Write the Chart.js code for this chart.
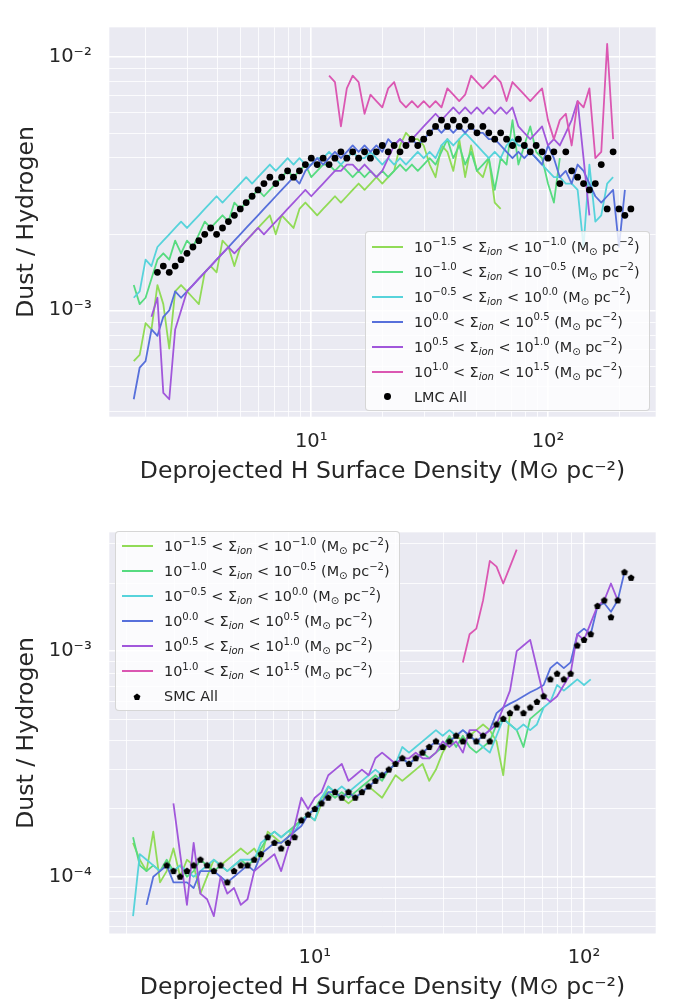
<!DOCTYPE html>
<html>
<head>
<meta charset="utf-8">
<title>Dust / Hydrogen vs deprojected H surface density</title>
<script src="https://cdn.jsdelivr.net/npm/chart.js@4.4.1/dist/chart.umd.min.js"></script>
<style>
  html, body { margin:0; padding:0; background:#ffffff; }
  #page { position:relative; width:676px; height:1007px; overflow:hidden; font-family:"DejaVu Sans", sans-serif; color:#262626; }
  canvas.plot { position:absolute; left:0; }
  #cLMC { top:0; }
  #cSMC { top:505px; }
  .legend { position:absolute; width:285px; height:180px; box-sizing:border-box; background:rgba(255,255,255,0.8); border:1px solid rgba(204,204,204,0.8); border-radius:4px; }
  #legLMC { left:365px; top:231px; }
  #legSMC { left:115px; top:530.5px; }
  .row { position:absolute; left:0; width:100%; height:22px; }
  .sw { position:absolute; left:5.5px; top:10px; width:31px; height:2px; }
  .dot { position:absolute; left:17.9px; top:7.6px; width:6.8px; height:6.8px; border-radius:50%; background:#000; }
  .pent { position:absolute; left:15.5px; top:6.5px; }
  .tx { position:absolute; left:48px; top:0; height:22px; line-height:22px; font-size:14.4px; white-space:nowrap; color:#262626; }
  .tx sup, .tx sub { font-size:70%; line-height:0; position:relative; vertical-align:baseline; }
  .tx sup { top:-0.62em; }
  .tx sub { top:0.32em; }
</style>
</head>
<body>
<div id="page">
  <canvas id="cLMC" class="plot" width="676" height="505"></canvas>
  <canvas id="cSMC" class="plot" width="676" height="502"></canvas>
  <div id="legLMC" class="legend"></div>
  <div id="legSMC" class="legend"></div>
</div>
<script>
// ---------------- shared density bins (M_sun pc^-2) ----------------
const densityBins = [
  1.778, 1.884, 1.995, 2.113, 2.239, 2.371, 2.512, 2.661, 2.818, 2.985,
  3.162, 3.350, 3.548, 3.758, 3.981, 4.217, 4.467, 4.732, 5.012, 5.309,
  5.623, 5.957, 6.310, 6.683, 7.079, 7.499, 7.943, 8.414, 8.913, 9.441,
  10.00, 10.59, 11.22, 11.89, 12.59, 13.34, 14.13, 14.96, 15.85, 16.79,
  17.78, 18.84, 19.95, 21.13, 22.39, 23.71, 25.12, 26.61, 28.18, 29.85,
  31.62, 33.50, 35.48, 37.58, 39.81, 42.17, 44.67, 47.32, 50.12, 53.09,
  56.23, 59.57, 63.10, 66.83, 70.79, 74.99, 79.43, 84.14, 89.13, 94.41,
  100.0, 105.9, 112.2, 118.9, 125.9, 133.4, 141.3, 149.6, 158.5, 167.9,
  177.8, 188.4, 199.5, 211.3, 223.9
];

// ionised gas surface density bins (legend exponents)
const ionLow  = ['\u22121.5', '\u22121.0', '\u22120.5', '0.0', '0.5', '1.0'];
const ionHigh = ['\u22121.0', '\u22120.5', '0.0', '0.5', '1.0', '1.5'];
const ionColors = ['hsl(93.6,65%,60%)', 'hsl(138.6,65%,60%)', 'hsl(183.6,65%,60%)',
                   'hsl(228.6,65%,60%)', 'hsl(273.6,65%,60%)', 'hsl(318.6,65%,60%)'];

// ---------------- LMC (top panel) ----------------
const lmcAllStart = 4;
const lmcAll = [
  1.413e-3,1.496e-3,1.413e-3,1.496e-3,1.585e-3,1.679e-3,1.778e-3,1.884e-3,1.995e-3,2.113e-3,
  1.995e-3,2.113e-3,2.239e-3,2.371e-3,2.512e-3,2.661e-3,2.818e-3,2.985e-3,3.162e-3,3.350e-3,
  3.162e-3,3.350e-3,3.548e-3,3.350e-3,3.548e-3,3.758e-3,3.981e-3,3.758e-3,3.981e-3,3.758e-3,
  3.981e-3,4.217e-3,3.981e-3,4.217e-3,3.981e-3,4.217e-3,3.981e-3,4.217e-3,4.467e-3,4.217e-3,
  4.467e-3,4.217e-3,4.467e-3,4.732e-3,4.467e-3,4.732e-3,5.012e-3,5.309e-3,5.623e-3,5.309e-3,
  5.623e-3,5.309e-3,5.623e-3,5.309e-3,5.012e-3,5.309e-3,5.012e-3,4.732e-3,5.012e-3,4.732e-3,
  4.467e-3,4.732e-3,4.467e-3,4.217e-3,4.467e-3,4.217e-3,3.981e-3,4.217e-3,3.162e-3,4.217e-3,
  3.548e-3,3.350e-3,3.162e-3,2.985e-3,3.162e-3,3.758e-3,2.512e-3,4.217e-3,2.512e-3,2.371e-3,2.512e-3
];
const lmcIonStart = [0, 0, 0, 0, 3, 33];
const lmcIon1 = [
  0.6310e-3,0.6683e-3,0.8913e-3,0.8414e-3,1.259e-3,1.059e-3,0.7079e-3,1.189e-3,1.259e-3,1.189e-3,
  1.122e-3,1.059e-3,1.413e-3,1.496e-3,1.413e-3,1.884e-3,1.778e-3,1.496e-3,1.778e-3,1.884e-3,
  1.995e-3,2.113e-3,2.239e-3,2.371e-3,1.995e-3,2.371e-3,2.239e-3,2.113e-3,2.512e-3,2.661e-3,
  2.512e-3,2.371e-3,2.512e-3,2.661e-3,2.818e-3,2.661e-3,2.818e-3,2.985e-3,3.162e-3,2.985e-3,
  3.162e-3,3.350e-3,3.162e-3,3.350e-3,3.548e-3,4.467e-3,5.012e-3,4.732e-3,4.732e-3,4.467e-3,
  3.758e-3,3.350e-3,4.467e-3,4.217e-3,3.548e-3,4.732e-3,3.350e-3,4.467e-3,3.548e-3,3.350e-3,
  3.981e-3,2.661e-3,2.512e-3
];
const lmcIon2 = [
  1.259e-3,1.059e-3,1.122e-3,1.334e-3,1.585e-3,1.679e-3,1.585e-3,1.884e-3,1.679e-3,1.884e-3,
  1.778e-3,1.995e-3,2.239e-3,2.113e-3,2.239e-3,2.371e-3,2.239e-3,2.661e-3,2.512e-3,2.661e-3,
  2.818e-3,2.985e-3,2.818e-3,2.985e-3,3.162e-3,3.350e-3,3.548e-3,3.350e-3,3.548e-3,3.758e-3,
  3.350e-3,3.548e-3,3.758e-3,3.758e-3,3.548e-3,3.758e-3,3.548e-3,3.350e-3,3.548e-3,3.350e-3,
  3.548e-3,3.350e-3,3.548e-3,3.350e-3,3.548e-3,3.758e-3,3.548e-3,3.758e-3,3.548e-3,3.758e-3,
  3.981e-3,3.758e-3,4.217e-3,4.732e-3,3.981e-3,4.467e-3,3.758e-3,4.217e-3,3.548e-3,3.758e-3,
  3.981e-3,2.985e-3,3.981e-3,3.758e-3,5.623e-3,3.758e-3,4.467e-3,5.309e-3,4.217e-3,3.981e-3,
  3.162e-3,2.661e-3,3.981e-3
];
const lmcIon3 = [
  1.122e-3,1.189e-3,1.585e-3,1.496e-3,1.778e-3,1.884e-3,1.995e-3,2.113e-3,2.239e-3,2.113e-3,
  2.239e-3,2.371e-3,2.512e-3,2.661e-3,2.818e-3,2.661e-3,2.818e-3,2.985e-3,3.162e-3,3.350e-3,
  3.162e-3,3.350e-3,3.548e-3,3.758e-3,3.548e-3,3.758e-3,3.981e-3,3.758e-3,3.981e-3,3.758e-3,
  3.758e-3,3.981e-3,3.981e-3,4.217e-3,3.981e-3,3.758e-3,3.981e-3,4.217e-3,3.981e-3,3.981e-3,
  4.217e-3,3.981e-3,3.758e-3,3.981e-3,3.758e-3,3.981e-3,3.758e-3,3.981e-3,4.217e-3,3.981e-3,
  4.217e-3,3.981e-3,4.467e-3,4.732e-3,4.467e-3,4.732e-3,5.012e-3,4.732e-3,4.467e-3,4.217e-3,
  3.981e-3,4.217e-3,3.981e-3,4.467e-3,4.732e-3,4.467e-3,4.467e-3,4.217e-3,3.981e-3,3.758e-3,
  3.548e-3,3.350e-3,3.350e-3,3.162e-3,3.162e-3,2.985e-3,1.778e-3,3.758e-3,2.239e-3,2.371e-3,
  3.162e-3,3.350e-3
];
const lmcIon4 = [
  0.4467e-3,0.5957e-3,0.6310e-3,0.8414e-3,0.7943e-3,0.9441e-3,1.000e-3,1.189e-3,1.122e-3,1.189e-3,
  1.259e-3,1.334e-3,1.413e-3,1.496e-3,1.585e-3,1.679e-3,1.778e-3,1.884e-3,1.995e-3,2.113e-3,
  2.239e-3,2.371e-3,2.512e-3,2.661e-3,2.818e-3,2.985e-3,3.162e-3,3.350e-3,3.162e-3,3.548e-3,
  3.758e-3,3.981e-3,3.758e-3,3.981e-3,4.217e-3,3.981e-3,4.217e-3,4.467e-3,4.217e-3,4.467e-3,
  4.217e-3,4.467e-3,4.217e-3,4.732e-3,4.467e-3,4.732e-3,4.467e-3,4.732e-3,4.467e-3,4.732e-3,
  5.012e-3,5.309e-3,5.012e-3,5.309e-3,5.012e-3,5.309e-3,5.012e-3,5.309e-3,5.012e-3,5.012e-3,
  4.732e-3,4.732e-3,4.467e-3,4.217e-3,3.981e-3,4.217e-3,3.981e-3,4.217e-3,3.981e-3,3.758e-3,
  4.467e-3,3.981e-3,3.350e-3,3.548e-3,3.162e-3,3.758e-3,3.548e-3,3.162e-3,2.818e-3,2.661e-3,
  2.818e-3,2.985e-3,1.778e-3,2.985e-3
];
const lmcIon5 = [
  0.9441e-3,1.122e-3,0.4732e-3,0.4467e-3,0.8414e-3,1.000e-3,1.189e-3,1.259e-3,1.334e-3,1.413e-3,
  1.496e-3,1.585e-3,1.679e-3,1.778e-3,1.679e-3,1.778e-3,1.884e-3,1.995e-3,2.113e-3,1.995e-3,
  2.113e-3,2.239e-3,2.371e-3,2.512e-3,2.661e-3,2.818e-3,2.985e-3,2.818e-3,2.985e-3,3.162e-3,
  3.350e-3,3.548e-3,3.548e-3,3.758e-3,3.758e-3,3.548e-3,3.758e-3,3.548e-3,3.350e-3,3.548e-3,
  3.981e-3,4.467e-3,4.732e-3,4.467e-3,4.732e-3,5.012e-3,5.309e-3,5.623e-3,5.957e-3,5.623e-3,
  5.957e-3,6.310e-3,5.957e-3,6.310e-3,5.957e-3,6.310e-3,5.957e-3,6.310e-3,5.957e-3,6.310e-3,
  5.957e-3,6.310e-3,5.309e-3,5.012e-3,4.732e-3,5.012e-3,5.309e-3,4.467e-3,4.732e-3,4.467e-3,
  5.012e-3,5.623e-3,6.683e-3,3.981e-3,2.371e-3
];
const lmcIon6 = [
  8.414e-3,7.943e-3,5.309e-3,7.499e-3,8.414e-3,7.943e-3,5.957e-3,7.079e-3,6.683e-3,6.310e-3,
  7.499e-3,7.943e-3,6.683e-3,6.310e-3,6.683e-3,6.310e-3,6.683e-3,6.310e-3,6.683e-3,6.310e-3,
  7.499e-3,7.079e-3,6.683e-3,7.079e-3,8.414e-3,7.943e-3,7.499e-3,7.943e-3,8.414e-3,7.943e-3,
  6.683e-3,7.943e-3,7.499e-3,7.079e-3,6.683e-3,7.079e-3,7.499e-3,5.623e-3,4.732e-3,5.623e-3,
  5.957e-3,4.467e-3,6.683e-3,6.310e-3,7.499e-3,3.981e-3,4.217e-3,11.22e-3,4.732e-3
];

// ---------------- SMC (bottom panel) ----------------
const smcAllStart = 8;
const smcAll = [
  1.122e-4,1.059e-4,1.000e-4,1.059e-4,1.122e-4,1.189e-4,1.122e-4,1.059e-4,1.122e-4,0.9441e-4,
  1.059e-4,1.122e-4,1.122e-4,1.189e-4,1.259e-4,1.496e-4,1.413e-4,1.334e-4,1.413e-4,1.496e-4,
  1.778e-4,1.884e-4,1.995e-4,2.113e-4,2.239e-4,2.371e-4,2.239e-4,2.371e-4,2.239e-4,2.371e-4,
  2.512e-4,2.661e-4,2.818e-4,2.985e-4,3.162e-4,3.350e-4,3.162e-4,3.350e-4,3.548e-4,3.758e-4,
  3.981e-4,3.758e-4,3.981e-4,4.217e-4,3.981e-4,4.217e-4,3.981e-4,4.217e-4,3.981e-4,4.732e-4,
  5.012e-4,5.309e-4,5.623e-4,5.309e-4,5.623e-4,5.957e-4,6.310e-4,7.499e-4,7.943e-4,7.499e-4,
  7.943e-4,10.59e-4,11.22e-4,11.89e-4,15.85e-4,16.79e-4,14.13e-4,16.79e-4,22.39e-4,21.13e-4
];
const smcIonStart = [3, 3, 3, 5, 9, 52];
const smcIon1 = [
  1.413e-4,1.189e-4,1.059e-4,1.585e-4,0.9441e-4,1.059e-4,1.334e-4,1.000e-4,1.189e-4,1.122e-4,
  0.8414e-4,1.000e-4,1.189e-4,1.122e-4,1.189e-4,1.259e-4,1.334e-4,1.259e-4,1.334e-4,1.189e-4,
  1.585e-4,1.496e-4,1.413e-4,1.496e-4,1.679e-4,1.778e-4,1.884e-4,1.778e-4,2.113e-4,2.512e-4,
  2.371e-4,2.239e-4,2.113e-4,2.239e-4,2.371e-4,2.512e-4,2.371e-4,2.239e-4,2.512e-4,2.818e-4,
  2.661e-4,2.818e-4,2.985e-4,3.162e-4,2.661e-4,2.985e-4,3.548e-4,3.981e-4,4.217e-4,3.981e-4,
  4.217e-4,4.467e-4,4.732e-4,4.467e-4,3.981e-4,2.818e-4,5.309e-4
];
const smcIon2 = [
  1.496e-4,1.122e-4,1.059e-4,1.122e-4,1.059e-4,1.189e-4,1.059e-4,1.122e-4,1.000e-4,1.059e-4,
  1.189e-4,1.122e-4,1.059e-4,1.122e-4,1.059e-4,1.122e-4,1.189e-4,1.122e-4,1.189e-4,1.334e-4,
  1.496e-4,1.585e-4,1.496e-4,1.585e-4,1.679e-4,1.778e-4,1.884e-4,1.995e-4,2.239e-4,2.371e-4,
  2.239e-4,2.371e-4,2.239e-4,2.371e-4,2.512e-4,2.661e-4,2.818e-4,2.661e-4,2.985e-4,3.162e-4,
  3.350e-4,3.162e-4,3.350e-4,3.548e-4,3.350e-4,3.548e-4,3.758e-4,4.217e-4,3.758e-4,4.217e-4,
  3.758e-4,3.548e-4,3.758e-4,3.981e-4,4.732e-4,5.012e-4,4.732e-4,4.467e-4,3.758e-4,5.012e-4,
  5.309e-4,5.623e-4
];
const smcIon3 = [
  0.6683e-4,1.259e-4,1.189e-4,1.122e-4,1.059e-4,1.122e-4,1.059e-4,1.122e-4,1.059e-4,1.000e-4,
  1.059e-4,1.122e-4,1.189e-4,1.122e-4,1.059e-4,1.122e-4,1.189e-4,1.189e-4,1.189e-4,1.413e-4,
  1.496e-4,1.585e-4,1.496e-4,1.585e-4,1.585e-4,1.778e-4,1.884e-4,1.778e-4,2.239e-4,2.512e-4,
  2.371e-4,2.512e-4,2.371e-4,2.512e-4,2.661e-4,2.818e-4,2.985e-4,2.818e-4,2.985e-4,3.162e-4,
  3.758e-4,3.548e-4,3.758e-4,3.981e-4,4.217e-4,4.467e-4,4.217e-4,4.467e-4,4.217e-4,4.467e-4,
  4.217e-4,3.981e-4,3.758e-4,3.548e-4,4.217e-4,5.012e-4,4.732e-4,4.467e-4,4.732e-4,4.467e-4,
  4.732e-4,5.623e-4,5.957e-4,7.079e-4,6.683e-4,7.079e-4,7.499e-4,7.079e-4,7.499e-4
];
const smcIon4 = [
  0.7499e-4,1.000e-4,1.059e-4,1.122e-4,0.9441e-4,0.9441e-4,0.9441e-4,0.8913e-4,1.059e-4,1.059e-4,
  1.059e-4,1.000e-4,0.9441e-4,1.000e-4,1.059e-4,1.122e-4,1.059e-4,1.259e-4,1.334e-4,1.413e-4,
  1.413e-4,1.496e-4,1.585e-4,1.679e-4,1.884e-4,1.995e-4,2.113e-4,2.371e-4,2.371e-4,2.239e-4,
  2.371e-4,2.239e-4,2.371e-4,2.512e-4,2.661e-4,2.818e-4,2.985e-4,3.162e-4,3.350e-4,3.162e-4,
  3.350e-4,3.548e-4,3.758e-4,3.981e-4,3.758e-4,3.981e-4,4.217e-4,4.467e-4,4.217e-4,3.981e-4,
  4.217e-4,4.467e-4,5.309e-4,5.623e-4,5.854e-4,6.060e-4,6.310e-4,6.569e-4,6.800e-4,7.079e-4,
  8.414e-4,8.913e-4,8.414e-4,8.913e-4,11.89e-4,12.59e-4,11.89e-4,15.85e-4,16.31e-4,14.96e-4,
  16.79e-4,22.39e-4
];
const smcIon5 = [
  2.113e-4,1.259e-4,0.7499e-4,1.413e-4,0.8414e-4,0.7943e-4,0.6683e-4,1.000e-4,0.8414e-4,0.8913e-4,
  0.7499e-4,0.7943e-4,1.059e-4,1.122e-4,1.189e-4,1.259e-4,1.059e-4,1.334e-4,1.679e-4,2.239e-4,
  1.995e-4,2.239e-4,2.371e-4,2.818e-4,2.985e-4,3.162e-4,2.661e-4,2.818e-4,2.985e-4,2.818e-4,
  3.350e-4,3.548e-4,3.350e-4,3.162e-4,3.350e-4,3.350e-4,3.548e-4,3.350e-4,3.350e-4,3.548e-4,
  3.981e-4,3.758e-4,3.981e-4,3.548e-4,4.467e-4,4.467e-4,4.217e-4,4.467e-4,4.732e-4,5.623e-4,
  6.683e-4,10.00e-4,10.59e-4,11.22e-4,8.414e-4,6.310e-4,5.957e-4,6.310e-4,7.079e-4,7.943e-4,
  11.89e-4,11.22e-4,13.34e-4,15.85e-4,16.79e-4,19.95e-4,16.79e-4
];
const smcIon6 = [8.913e-4, 11.89e-4, 12.59e-4, 16.79e-4, 25.12e-4, 23.71e-4, 19.95e-4, 23.71e-4, 28.18e-4];

// ---------------- axes: ranges and tick labels ----------------
const lmcXRange = [1.402, 285.1];
const lmcYRange = [3.813e-4, 1.3047e-2];
const smcXRange = [1.7245, 184.6];
const smcYRange = [5.60e-5, 3.363e-3];
const xMajorTicks = [10, 100];
const xMajorLabels = ['10\u00B9', '10\u00B2'];
const lmcYMajorTicks = [1e-3, 1e-2];
const lmcYMajorLabels = ['10\u207B\u00B3', '10\u207B\u00B2'];
const smcYMajorTicks = [1e-4, 1e-3];
const smcYMajorLabels = ['10\u207B\u2074', '10\u207B\u00B3'];
const xTitle = 'Deprojected H Surface Density (M\u2299 pc\u207B\u00B2)';
const yTitle = 'Dust / Hydrogen';

// ---------------- helpers ----------------
const TXT = '#262626';
const FONT = '"DejaVu Sans", sans-serif';
Chart.defaults.font.family = FONT;

function isClose(a, b) { return Math.abs(a - b) <= 1e-7 * Math.max(Math.abs(a), Math.abs(b)); }

function gridValues(min, max) {
  const out = [];
  for (let e = Math.floor(Math.log10(min)); e <= Math.ceil(Math.log10(max)); e++) {
    for (let d = 1; d <= 9; d++) {
      const v = parseFloat((d * Math.pow(10, e)).toPrecision(8));
      if (v > min && v < max) out.push(v);
    }
  }
  return out;
}

function seriesPoints(start, values) {
  return values.map((v, j) => ({ x: densityBins[start + j], y: v }));
}

function ionLabelText(n) {
  return '10^' + ionLow[n] + ' < \u03A3_ion < 10^' + ionHigh[n] + ' (M\u2299 pc\u207B\u00B2)';
}

function pentagonCanvas(r) {
  const s = Math.ceil(2 * r + 2);
  const c = document.createElement('canvas');
  c.width = s; c.height = s;
  const g = c.getContext('2d');
  g.beginPath();
  for (let k = 0; k < 5; k++) {
    const a = -Math.PI / 2 + k * 2 * Math.PI / 5;
    const px = s / 2 + r * Math.cos(a), py = s / 2 + r * Math.sin(a);
    if (k === 0) g.moveTo(px, py); else g.lineTo(px, py);
  }
  g.closePath();
  g.fillStyle = '#000';
  g.fill();
  return c;
}

const bgPlugin = {
  id: 'axesBackground',
  beforeDraw(chart) {
    const { ctx, chartArea } = chart;
    ctx.save();
    ctx.fillStyle = '#EAEAF2';
    ctx.fillRect(chartArea.left, chartArea.top, chartArea.right - chartArea.left, chartArea.bottom - chartArea.top);
    ctx.restore();
  }
};

function logAxis(range, majors, labels, extra) {
  return Object.assign({
    type: 'logarithmic',
    min: range[0],
    max: range[1],
    afterBuildTicks(scale) {
      scale.ticks = gridValues(scale.min, scale.max).map(v => ({ value: v, major: majors.some(m => isClose(m, v)) }));
    },
    grid: {
      color: '#ffffff',
      lineWidth: (c) => (c.tick && c.tick.major) ? 1.6 : 0.8,
      drawTicks: false
    },
    border: { display: false },
    ticks: {
      autoSkip: false, maxRotation: 0, minRotation: 0,
      color: TXT,
      font: { size: 19.5, lineHeight: 1 },
      callback(value) {
        const k = majors.findIndex(m => isClose(m, value));
        return k >= 0 ? labels[k] : '';
      }
    }
  }, extra);
}

function buildPanel(p) {
  const datasets = p.ion.map((vals, n) => ({
    label: ionLabelText(n),
    data: seriesPoints(p.ionStart[n], vals),
    borderColor: ionColors[n],
    backgroundColor: ionColors[n],
    borderWidth: 1.8,
    pointRadius: 0,
    tension: 0,
    fill: false,
    borderJoinStyle: 'round',
    order: ionColors.length - n
  }));
  datasets.push({
    label: p.allLabel,
    data: seriesPoints(p.allStart, p.all),
    showLine: false,
    pointStyle: p.marker,
    pointRadius: p.markerRadius,
    backgroundColor: '#000000',
    borderColor: '#000000',
    borderWidth: 0,
    order: 0
  });

  const x = logAxis(p.xRange, xMajorTicks, xMajorLabels, {
    afterFit(scale) { scale.height = p.xAxisHeight; }
  });
  x.ticks.padding = 15;
  x.title = { display: true, text: xTitle, color: TXT, font: { size: 23.5, lineHeight: 1 }, padding: { top: 0, bottom: p.xTitlePad } };

  const y = logAxis(p.yRange, p.yMajors, p.yLabels, {
    afterFit(scale) { scale.width = 109.3; }
  });
  y.ticks.padding = 17.6;
  y.title = { display: true, text: yTitle, color: TXT, font: { size: 23.5, lineHeight: 1 }, padding: { top: 15, bottom: 0 } };

  return new Chart(document.getElementById(p.canvas), {
    type: 'line',
    data: { datasets },
    options: {
      responsive: false,
      animation: false,
      devicePixelRatio: 1,
      events: [],
      layout: { padding: { left: 0, right: 20.3, top: p.topPad, bottom: 0 } },
      plugins: { legend: { display: false }, tooltip: { enabled: false } },
      scales: { x, y }
    },
    plugins: [bgPlugin]
  });
}

function buildLegend(id, chart, markerEl) {
  const box = document.getElementById(id);
  chart.data.datasets.forEach((ds, n) => {
    const row = document.createElement('div');
    row.className = 'row';
    row.style.top = (14.5 + 25 * n - 11) + 'px';
    if (n < ionColors.length) {
      row.innerHTML = '<span class="sw" style="background:' + ds.borderColor + '"></span>' +
        '<span class="tx">10<sup>' + ionLow[n] + '</sup> &lt; \u03A3<sub><i>ion</i></sub> &lt; 10<sup>' +
        ionHigh[n] + '</sup> (M<sub>\u2299</sub> pc<sup>\u22122</sup>)</span>';
    } else {
      row.appendChild(markerEl);
      const t = document.createElement('span');
      t.className = 'tx';
      t.textContent = ds.label;
      row.appendChild(t);
    }
    box.appendChild(row);
  });
}

const lmcChart = buildPanel({
  canvas: 'cLMC',
  ion: [lmcIon1, lmcIon2, lmcIon3, lmcIon4, lmcIon5, lmcIon6],
  ionStart: lmcIonStart,
  all: lmcAll, allStart: lmcAllStart, allLabel: 'LMC All',
  marker: 'circle', markerRadius: 3.4,
  xRange: lmcXRange, yRange: lmcYRange,
  yMajors: lmcYMajorTicks, yLabels: lmcYMajorLabels,
  topPad: 7.5, xAxisHeight: 88.3, xTitlePad: 21.5
});

const smcChart = buildPanel({
  canvas: 'cSMC',
  ion: [smcIon1, smcIon2, smcIon3, smcIon4, smcIon5, smcIon6],
  ionStart: smcIonStart,
  all: smcAll, allStart: smcAllStart, allLabel: 'SMC All',
  marker: pentagonCanvas(3.6), markerRadius: 3.5,
  xRange: smcXRange, yRange: smcYRange,
  yMajors: smcYMajorTicks, yLabels: smcYMajorLabels,
  topPad: 20, xAxisHeight: 73.5, xTitlePad: 7.25
});

const lmcDot = document.createElement('span');
lmcDot.className = 'dot';
buildLegend('legLMC', lmcChart, lmcDot);

const smcPent = pentagonCanvas(3.6);
smcPent.className = 'pent';
buildLegend('legSMC', smcChart, smcPent);
</script>
</body>
</html>
